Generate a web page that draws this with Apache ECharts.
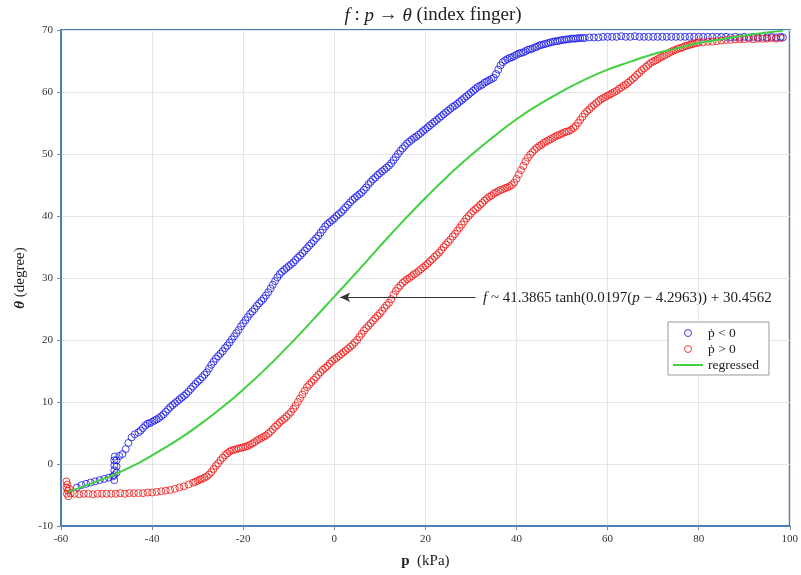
<!DOCTYPE html>
<html>
<head>
<meta charset="utf-8">
<script src="https://cdn.jsdelivr.net/npm/echarts@6/dist/echarts.min.js"></script>
<style>
  html, body { margin: 0; padding: 0; background: #fff; }
  #chart { width: 801px; height: 575px; }
</style>
</head>
<body>
<div id="chart"></div>
<script type="text/javascript">
    // p (kPa), theta (degree) -- whole-number p
    var pressureFalling = [
        [-56.5,-3.8],[-55.5,-3.4],[-54.5,-3.2],[-53.5,-3.0],[-52.5,-2.8],[-51.5,-2.6],[-50.5,-2.4],[-49.5,-2.2],[-48.6,-2.0],
        [-48.3,-2.6],[-48.3,-1.8],[-48.3,-1.0],[-48.3,-0.2],[-48.3,0.6],[-48.2,1.2],[-47.8,-1.4],[-47.8,-0.4],[-47.8,0.6],
        [-47.2,1.3],[-46.5,1.6],[-45.8,2.4],[-45.2,3.4],[-44.5,4.3],[-43.8,4.8],[-43,5.1],[-42,5.8],[-41,6.5],[-40,6.8],
        [-39,7.2],[-38,7.7],[-37,8.4],[-36,9.2],[-35,9.8],[-34,10.4],[-33,11.0],[-32,11.7],[-31,12.5],[-30,13.3],[-29,14.0],
        [-28,14.8],[-27,16.0],[-26,17.0],[-25,17.8],[-24,18.7],[-23,19.6],[-22,20.6],[-21,21.6],[-20,22.7],[-19,23.7],
        [-18,24.6],[-17,25.5],[-16,26.3],[-15,27.2],[-14,28.3],[-13,29.5],[-12,30.6],[-11,31.3],[-10,31.9],[-9,32.5],
        [-8,33.3],[-7,34.0],[-6,34.8],[-5,35.6],[-4,36.4],[-3,37.3],[-2,38.3],[-1,39.0],[0,39.6],[1,40.3],[2,41.0],
        [3,41.8],[4,42.6],[5,43.2],[6,43.8],[7,44.6],[8,45.5],[9,46.2],[10,46.9],[11,47.5],[12,48.1],[13,49.0],[14,50.0],
        [15,50.9],[16,51.7],[17,52.3],[18,52.8],[19,53.4],[20,54.0],[21,54.6],[22,55.2],[23,55.8],[24,56.4],[25,57.0],
        [26,57.6],[27,58.1],[28,58.7],[29,59.3],[30,59.9],[31,60.5],[32,61.0],[33,61.5],[34,61.9],[35,62.3],[36,63.6],
        [37,64.8],[38,65.3],[39,65.6],[40,66.0],[41,66.3],[42,66.6],[43,66.9],[44,67.2],[45,67.5],[46,67.7],[47,67.9],
        [48,68.1],[49,68.2],[50,68.4],[51,68.5],[52,68.6],[53,68.6],[54,68.7],[55,68.7],[56,68.8],[57,68.8],[58,68.8],
        [59,68.9],[60,68.9],[61,68.9],[62,68.9],[63,69.0],[64,68.9],[65,68.9],[66,69.0],[67,68.9],[68,68.9],[69,68.9],
        [70,68.9],[71,68.9],[72,68.9],[73,68.9],[74,68.9],[75,68.9],[76,68.9],[77,68.9],[78,68.9],[79,68.9],[80,68.9],
        [81,68.9],[82,68.9],[83,68.9],[84,68.9],[85,68.9],[86,68.9],[87,68.8],[88,68.9],[89,68.8],[90,68.9],[91,68.8],
        [92,68.9],[93,68.8],[94,68.9],[95,68.8],[96,68.9],[97,68.8],[98,68.9],[98.5,68.8]
    ];
    // half-step readings along the rising part of the same branch
    var pressureFallingMid = [
        [-42.5,5.4],[-41.5,6.2],[-40.5,6.6],[-39.5,7.0],[-38.5,7.4],[-37.5,8.0],[-36.5,8.8],[-35.5,9.5],[-34.5,10.1],
        [-33.5,10.7],[-32.5,11.3],[-31.5,12.1],[-30.5,12.9],[-29.5,13.6],[-28.5,14.4],[-27.5,15.4],[-26.5,16.5],
        [-25.5,17.4],[-24.5,18.2],[-23.5,19.1],[-22.5,20.1],[-21.5,21.1],[-20.5,22.2],[-19.5,23.2],[-18.5,24.2],
        [-17.5,25.0],[-16.5,25.9],[-15.5,26.7],[-14.5,27.7],[-13.5,28.9],[-12.5,30.1],[-11.5,31.0],[-10.5,31.6],
        [-9.5,32.2],[-8.5,32.9],[-7.5,33.6],[-6.5,34.4],[-5.5,35.2],[-4.5,36.0],[-3.5,36.8],[-2.5,37.8],[-1.5,38.7],
        [-0.5,39.3],[0.5,40.0],[1.5,40.6],[2.5,41.4],[3.5,42.2],[4.5,42.9],[5.5,43.5],[6.5,44.2],[7.5,45.1],[8.5,45.9],
        [9.5,46.6],[10.5,47.2],[11.5,47.8],[12.5,48.5],[13.5,49.5],[14.5,50.5],[15.5,51.3],[16.5,52.0],[17.5,52.6],
        [18.5,53.1],[19.5,53.7],[20.5,54.3],[21.5,54.9],[22.5,55.5],[23.5,56.1],[24.5,56.7],[25.5,57.3],[26.5,57.8],
        [27.5,58.4],[28.5,59.0],[29.5,59.6],[30.5,60.2],[31.5,60.8],[32.5,61.2],[33.5,61.7],[34.5,62.1],[35.5,62.9],
        [36.5,64.3],[37.5,65.1],[38.5,65.5],[39.5,65.8],[40.5,66.2],[41.5,66.4],[42.5,66.8],[43.5,67.0],[44.5,67.3],
        [45.5,67.6],[46.5,67.8],[47.5,68.0],[48.5,68.2],[49.5,68.3],[50.5,68.4],[51.5,68.5],[52.5,68.6],[53.5,68.7],
        [54.5,68.7]
    ];

    var pressureRising = [
        [-58.8,-2.8],[-58.6,-3.3],[-58.8,-3.8],[-58.5,-4.3],[-58.7,-4.8],[-58.4,-5.2],[-58.2,-4.0],[-57.9,-4.7],
        [-57,-4.8],[-56,-4.9],[-55,-4.8],[-54,-4.8],[-53,-4.9],[-52,-4.8],[-51,-4.8],[-50,-4.8],[-49,-4.8],[-48,-4.8],
        [-47,-4.7],[-46,-4.8],[-45,-4.7],[-44,-4.7],[-43,-4.7],[-42,-4.7],[-41,-4.6],[-40,-4.6],[-39,-4.5],[-38,-4.4],
        [-37,-4.3],[-36,-4.2],[-35,-4.0],[-34,-3.8],[-33,-3.6],[-32,-3.3],[-31,-3.0],[-30,-2.7],[-29,-2.4],[-28,-2.0],
        [-27,-1.3],[-26,-0.3],[-25,0.6],[-24,1.4],[-23,2.0],[-22,2.3],[-21,2.5],[-20,2.7],[-19,2.9],[-18,3.3],[-17,3.8],
        [-16,4.2],[-15,4.6],[-14,5.2],[-13,6.0],[-12,6.7],[-11,7.3],[-10,8.0],[-9,8.9],[-8,10.0],[-7,11.2],[-6,12.4],
        [-5,13.2],[-4,14.0],[-3,14.8],[-2,15.5],[-1,16.2],[0,16.9],[1,17.4],[2,18.0],[3,18.6],[4,19.2],[5,20.0],[6,21.0],
        [7,21.9],[8,22.7],[9,23.5],[10,24.3],[11,25.2],[12,26.0],[13,27.3],[14,28.4],[15,29.2],[16,29.8],[17,30.3],
        [18,30.8],[19,31.4],[20,32.0],[21,32.7],[22,33.4],[23,34.1],[24,35.0],[25,35.8],[26,36.7],[27,37.6],[28,38.6],
        [29,39.6],[30,40.4],[31,41.1],[32,41.8],[33,42.5],[34,43.1],[35,43.6],[36,44.0],[37,44.3],[38,44.6],[39,45.0],
        [40,46.0],[41,47.4],[42,48.8],[43,49.9],[44,50.7],[45,51.3],[46,51.8],[47,52.2],[48,52.6],[49,53.0],[50,53.3],
        [51,53.6],[52,53.9],[53,54.5],[54,55.5],[55,56.5],[56,57.2],[57,57.9],[58,58.5],[59,59.0],[60,59.4],[61,59.8],
        [62,60.2],[63,60.7],[64,61.2],[65,61.8],[66,62.4],[67,63.1],[68,63.8],[69,64.4],[70,64.9],[71,65.3],[72,65.7],
        [73,66.1],[74,66.5],[75,66.8],[76,67.1],[77,67.4],[78,67.6],[79,67.8],[80,68.0],[81,68.0],[82,68.1],[83,68.1],
        [84,68.2],[85,68.3],[86,68.4],[87,68.4],[88,68.5],[89,68.5],[90,68.5],[91,68.6],[92,68.5],[93,68.6],[94,68.6],
        [95,68.6],[96,68.7],[97,68.6],[98,68.7]
    ];
    var pressureRisingMid = [
        [-30.5,-2.9],[-29.5,-2.5],[-28.5,-2.2],[-27.5,-1.7],[-26.5,-0.8],[-25.5,0.1],[-24.5,1.0],[-23.5,1.7],[-22.5,2.2],
        [-21.5,2.4],[-20.5,2.6],[-19.5,2.8],[-18.5,3.1],[-17.5,3.5],[-16.5,4.0],[-15.5,4.4],[-14.5,4.9],[-13.5,5.6],
        [-12.5,6.3],[-11.5,7.0],[-10.5,7.6],[-9.5,8.4],[-8.5,9.4],[-7.5,10.6],[-6.5,11.8],[-5.5,12.8],[-4.5,13.6],
        [-3.5,14.4],[-2.5,15.2],[-1.5,15.8],[-0.5,16.6],[0.5,17.1],[1.5,17.7],[2.5,18.3],[3.5,18.9],[4.5,19.6],[5.5,20.5],
        [6.5,21.5],[7.5,22.3],[8.5,23.1],[9.5,23.9],[10.5,24.7],[11.5,25.6],[12.5,26.6],[13.5,27.9],[14.5,28.8],
        [15.5,29.5],[16.5,30.0],[17.5,30.6],[18.5,31.1],[19.5,31.7],[20.5,32.3],[21.5,33.0],[22.5,33.7],[23.5,34.5],
        [24.5,35.4],[25.5,36.2],[26.5,37.1],[27.5,38.1],[28.5,39.1],[29.5,40.0],[30.5,40.8],[31.5,41.4],[32.5,42.1],
        [33.5,42.8],[34.5,43.3],[35.5,43.8],[36.5,44.2],[37.5,44.5],[38.5,44.8],[39.5,45.4],[40.5,46.7],[41.5,48.1],
        [42.5,49.4],[43.5,50.3],[44.5,51.0],[45.5,51.5],[46.5,52.0],[47.5,52.4],[48.5,52.8],[49.5,53.1],[50.5,53.5],
        [51.5,53.7],[52.5,54.2],[53.5,55.0],[54.5,56.0],[55.5,56.9],[56.5,57.6],[57.5,58.2],[58.5,58.8],[59.5,59.2],
        [60.5,59.6],[61.5,60.0],[62.5,60.5],[63.5,61.0],[64.5,61.5],[65.5,62.1],[66.5,62.8],[67.5,63.5],[68.5,64.1],
        [69.5,64.7],[70.5,65.1],[71.5,65.5],[72.5,65.9],[73.5,66.3],[74.5,66.7],[75.5,67.0],[76.5,67.2],[77.5,67.5],
        [78.5,67.7],[79.5,67.9]
    ];

    var regressedP = [-58.5,-55,-50,-45,-40,-35,-30,-25,-20,-15,-10,-5,0,5,10,15,20,25,30,35,40,45,50,55,60,65,70,75,80,85,90,95,98.5];
    var regressedTheta = [-4.5,-3.6,-2.2,-0.6,1.4,3.6,6.1,8.9,12.0,15.4,19.1,23.0,27.0,31.0,35.1,39.1,42.9,46.5,49.8,52.8,55.6,58.0,60.1,62.0,63.6,64.9,66.1,67.0,67.9,68.5,69.1,69.6,69.9];

    var arrowFrom = [31, 26.9];
    var arrowTo = [1.3, 26.9];

    var serif = 'Liberation Serif, DejaVu Serif, serif';
    var regressed = regressedP.map(function (p, i) { return [p, regressedTheta[i]]; });

    var chart = echarts.init(document.getElementById('chart'));
    var option = {
        animation: false,
        backgroundColor: '#fff',
        title: {
            text: '{i|f} : {i|p} → {i|θ} (index finger)',
            left: 428,
            top: 1,
            textAlign: 'center',
            textStyle: {
                fontFamily: serif, fontSize: 19, fontWeight: 'normal', color: '#222',
                rich: { i: { fontFamily: serif, fontSize: 19, fontStyle: 'italic', color: '#222' } }
            }
        },
        grid: { left: 61, right: 6, top: 30, bottom: 49, show: true, borderColor: '#4a7ebb', borderWidth: 2 },
        legend: {
            orient: 'vertical',
            left: 668,
            top: 322,
            backgroundColor: '#fff',
            borderColor: '#999',
            borderWidth: 1,
            padding: [4, 10, 3, 4],
            itemGap: 2,
            itemWidth: 30,
            itemHeight: 7,
            itemStyle: { borderWidth: 1 },
            textStyle: { fontFamily: serif, fontSize: 13.5, color: '#222' },
            data: ['ṗ < 0', 'ṗ > 0', { name: 'regressed', itemStyle: { opacity: 0 } }]
        },
        xAxis: {
            type: 'value',
            min: -60, max: 100, interval: 20,
            name: '{b|p}  (kPa)',
            nameLocation: 'middle',
            nameGap: 28,
            nameTextStyle: {
                fontFamily: serif, fontSize: 15, color: '#222',
                rich: { b: { fontFamily: serif, fontSize: 15, fontWeight: 'bold', color: '#222' } }
            },
            axisLine: { show: true, onZero: false, lineStyle: { color: '#4a7ebb', width: 2 } },
            axisTick: { show: true, length: 4, lineStyle: { color: '#888' } },
            axisLabel: { fontFamily: serif, fontSize: 11, color: '#333', margin: 8 },
            splitLine: { show: true, lineStyle: { color: '#e6e6e6' } }
        },
        yAxis: {
            type: 'value',
            min: -10, max: 70, interval: 10,
            name: '{b|θ} (degree)',
            nameLocation: 'middle',
            nameRotate: 90,
            nameGap: 32,
            nameTextStyle: {
                fontFamily: serif, fontSize: 15, color: '#222',
                rich: { b: { fontFamily: serif, fontSize: 15, fontWeight: 'bold', fontStyle: 'italic', color: '#222' } }
            },
            axisLine: { show: true, onZero: false, lineStyle: { color: '#4a7ebb', width: 2 } },
            axisTick: { show: true, length: 4, lineStyle: { color: '#888' } },
            axisLabel: { fontFamily: serif, fontSize: 11, color: '#333', margin: 8 },
            splitLine: { show: true, lineStyle: { color: '#e6e6e6' } }
        },
        series: [
            {
                name: 'ṗ < 0',
                type: 'scatter',
                symbol: 'circle',
                symbolSize: 7,
                itemStyle: { color: 'rgba(0,0,0,0)', borderColor: '#1414e6', borderWidth: 1 },
                data: pressureFalling.concat(pressureFallingMid)
            },
            {
                name: 'ṗ > 0',
                type: 'scatter',
                symbol: 'circle',
                symbolSize: 7,
                itemStyle: { color: 'rgba(0,0,0,0)', borderColor: '#f01010', borderWidth: 1 },
                data: pressureRising.concat(pressureRisingMid)
            },
            {
                name: 'regressed',
                type: 'line',
                smooth: true,
                symbol: 'none',
                lineStyle: { color: '#40d040', width: 2 },
                itemStyle: { color: '#40d040' },
                data: regressed,
                markLine: {
                    silent: true,
                    symbol: ['none', 'arrow'],
                    symbolSize: [7, 10],
                    lineStyle: { color: '#333', width: 1, type: 'solid' },
                    label: { show: false },
                    data: [[{ coord: arrowFrom }, { coord: arrowTo }]]
                }
            }
        ],
        graphic: [{
            type: 'text',
            left: 483,
            top: 291,
            style: {
                text: '{i|f} ~ 41.3865 tanh(0.0197({i|p} − 4.2963)) + 30.4562',
                fontFamily: serif, fontSize: 15, fill: '#222',
                rich: { i: { fontFamily: serif, fontSize: 15, fontStyle: 'italic', fill: '#222' } }
            }
        }]
    };
    chart.setOption(option);
    window.onresize = chart.resize;
</script>
</body>
</html>
